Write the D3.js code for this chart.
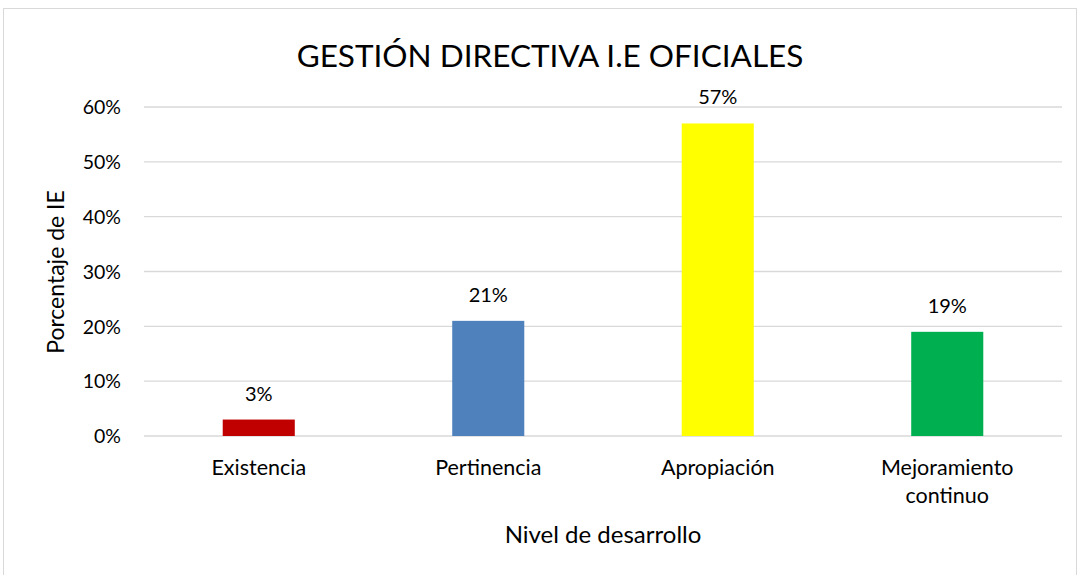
<!DOCTYPE html>
<html>
<head>
<meta charset="utf-8">
<script src="https://cdn.jsdelivr.net/npm/d3@7"></script>
<style>
  body { margin: 0; background: #fff; }
  svg text { font-family: Lato, "Open Sans", sans-serif; fill: #000; }
</style>
</head>
<body>
<svg id="chart"></svg>
<script>
var width = 1080;
var height = 575;

// datos
var categories = ['Existencia', 'Pertinencia', 'Apropiación', 'Mejoramiento continuo'];
var values = [0.03, 0.21, 0.57, 0.19];
var colors = ['#C00000', '#4F81BD', '#FFFF00', '#00B050'];
var yTicks = [0, 0.1, 0.2, 0.3, 0.4, 0.5, 0.6];

var margin = { top: 107, right: 18, bottom: 139, left: 144 };

var svg = d3.select('#chart')
   .attr('width', width)
   .attr('height', height)
;

// borde del área del gráfico
svg.append('rect')
   .attr('x', 3.5)
   .attr('y', 8.5)
   .attr('width', 1073)
   .attr('height', 580)
   .attr('fill', 'none')
   .attr('stroke', '#d9d9d9')
;

var x = d3.scaleBand()
   .domain(categories)
   .range([margin.left, width - margin.right])
   .paddingInner(0.686)
   .paddingOuter(0.343)
;

var y = d3.scaleLinear()
   .domain([0, 0.6])
   .range([height - margin.bottom, margin.top])
;

// líneas de cuadrícula
svg.append('g')
   .selectAll('line')
   .data(yTicks)
   .enter()
   .append('line')
   .attr('x1', margin.left)
   .attr('x2', width - margin.right)
   .attr('y1', function(d) { return y(d); })
   .attr('y2', function(d) { return y(d); })
   .attr('stroke', '#d9d9d9')
   .attr('stroke-width', 1.3)
;

// eje y
var yAxis = svg.append('g')
   .attr('transform', 'translate(' + (margin.left - 23) + ',0)')
   .call(d3.axisLeft(y).tickValues(yTicks).tickFormat(d3.format('.0%')).tickSize(0).tickPadding(0))
;
yAxis.select('.domain').remove();
yAxis.selectAll('text')
   .style('font-size', '19.5px')
   .style('font-family', 'Lato, sans-serif')
   .attr('dy', '0.35em')
;

// barras
svg.append('g')
   .selectAll('rect')
   .data(values)
   .enter()
   .append('rect')
   .attr('x', function(d, i) { return x(categories[i]); })
   .attr('width', x.bandwidth())
   .attr('y', function(d) { return y(d); })
   .attr('height', function(d) { return y(0) - y(d); })
   .attr('fill', function(d, i) { return colors[i]; })
;

// etiquetas de valor
svg.append('g')
   .selectAll('text')
   .data(values)
   .enter()
   .append('text')
   .attr('x', function(d, i) { return x(categories[i]) + x.bandwidth() / 2; })
   .attr('y', function(d) { return y(d) - 19; })
   .attr('text-anchor', 'middle')
   .style('font-size', '20px')
   .text(function(d) { return d3.format('.0%')(d); })
;

// etiquetas de categoría (con salto de línea)
var catLabels = svg.append('g')
   .selectAll('text')
   .data(categories)
   .enter()
   .append('text')
   .attr('x', function(d) { return x(d) + x.bandwidth() / 2; })
   .attr('y', y(0) + 39)
   .attr('text-anchor', 'middle')
   .style('font-size', '21.5px')
;
catLabels.each(function(d) {
   var t = d3.select(this);
   var parts = d === 'Mejoramiento continuo' ? ['Mejoramiento', 'continuo'] : [d];
   parts.forEach(function(p, i) {
      t.append('tspan')
         .attr('x', t.attr('x'))
         .attr('dy', i === 0 ? 0 : 28)
         .text(p);
   });
});

// título
svg.append('text')
   .attr('x', 550)
   .attr('y', 67)
   .attr('text-anchor', 'middle')
   .style('font-size', '31.5px')
   .text('GESTIÓN DIRECTIVA I.E OFICIALES')
;

// título eje y
svg.append('text')
   .attr('transform', 'translate(64,272) rotate(-90)')
   .attr('text-anchor', 'middle')
   .style('font-size', '23px')
   .text('Porcentaje de IE')
;

// título eje x
svg.append('text')
   .attr('x', 603)
   .attr('y', 543)
   .attr('text-anchor', 'middle')
   .style('font-size', '24px')
   .text('Nivel de desarrollo')
;
</script>
</body>
</html>
